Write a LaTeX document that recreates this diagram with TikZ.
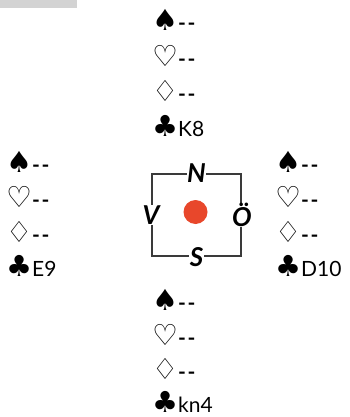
\documentclass[tikz,border=0pt]{standalone}
\usepackage{fontspec}
\setmainfont{Lato}
\newfontfamily\suitfont{DejaVu Sans}
\definecolor{dotred}{HTML}{E8472B}
\definecolor{barg}{HTML}{D3D3D3}
\definecolor{boxg}{HTML}{3A3A3A}
\newcommand{\suitsz}{\fontsize{29}{30}\selectfont}
\newcommand{\sS}{{\suitfont\suitsz\char"2660}}
\newcommand{\sH}{{\suitfont\suitsz\char"2661}}
\newcommand{\sD}{{\suitfont\suitsz\char"2662}}
\newcommand{\sC}{{\suitfont\suitsz\char"2663}}
\newcommand{\dsh}{{\bfseries -\kern1.5pt-}}
\begin{document}
\begin{tikzpicture}[x=1pt,y=-1pt,
  row/.style={anchor=west,inner sep=0pt,font=\fontsize{21}{22}\selectfont},
  compass/.style={fill=white,inner sep=0.5pt,font=\fontsize{26}{26}\selectfont\bfseries\itshape},
  cbox/.style={draw=boxg,line width=1.8pt,minimum width=89pt,minimum height=82pt,inner sep=0pt}]
\useasboundingbox (0,0) rectangle (349,417);
\fill[barg] (0,0) rectangle (77,8);
% North
\node[row] (n1) at (152,20) {\sS\dsh};
\node[row] (n2) at (152,56) {\sH\dsh};
\node[row] (n3) at (152,91) {\sD\dsh};
\node[row] (n4) at (152,126) {\sC K8};
% West
\node[row] (w1) at (6,162) {\sS\dsh};
\node[row] (w2) at (6,197) {\sH\dsh};
\node[row] (w3) at (6,232) {\sD\dsh};
\node[row] (w4) at (6,266) {\sC E9};
% East
\node[row] (e1) at (275,162) {\sS\dsh};
\node[row] (e2) at (275,197) {\sH\dsh};
\node[row] (e3) at (275,232) {\sD\dsh};
\node[row] (e4) at (275,266) {\sC D10};
% South
\node[row] (s1) at (152,300) {\sS\dsh};
\node[row] (s2) at (152,335) {\sH\dsh};
\node[row] (s3) at (152,369) {\sD\dsh};
\node[row] (s4) at (152,402) {\sC kn4};
% Compass
\node[cbox] (box) at (196.5,215) {};
\fill[dotred] (box.center) ++(-1,-3) circle (12);
\node[compass] (cN) at (box.north) {N};
\node[compass] (cS) at (box.south) {S};
\node[compass] (cV) at (box.west) {V};
\node[compass] (cO) at (box.east) {Ö};
\end{tikzpicture}
\end{document}
